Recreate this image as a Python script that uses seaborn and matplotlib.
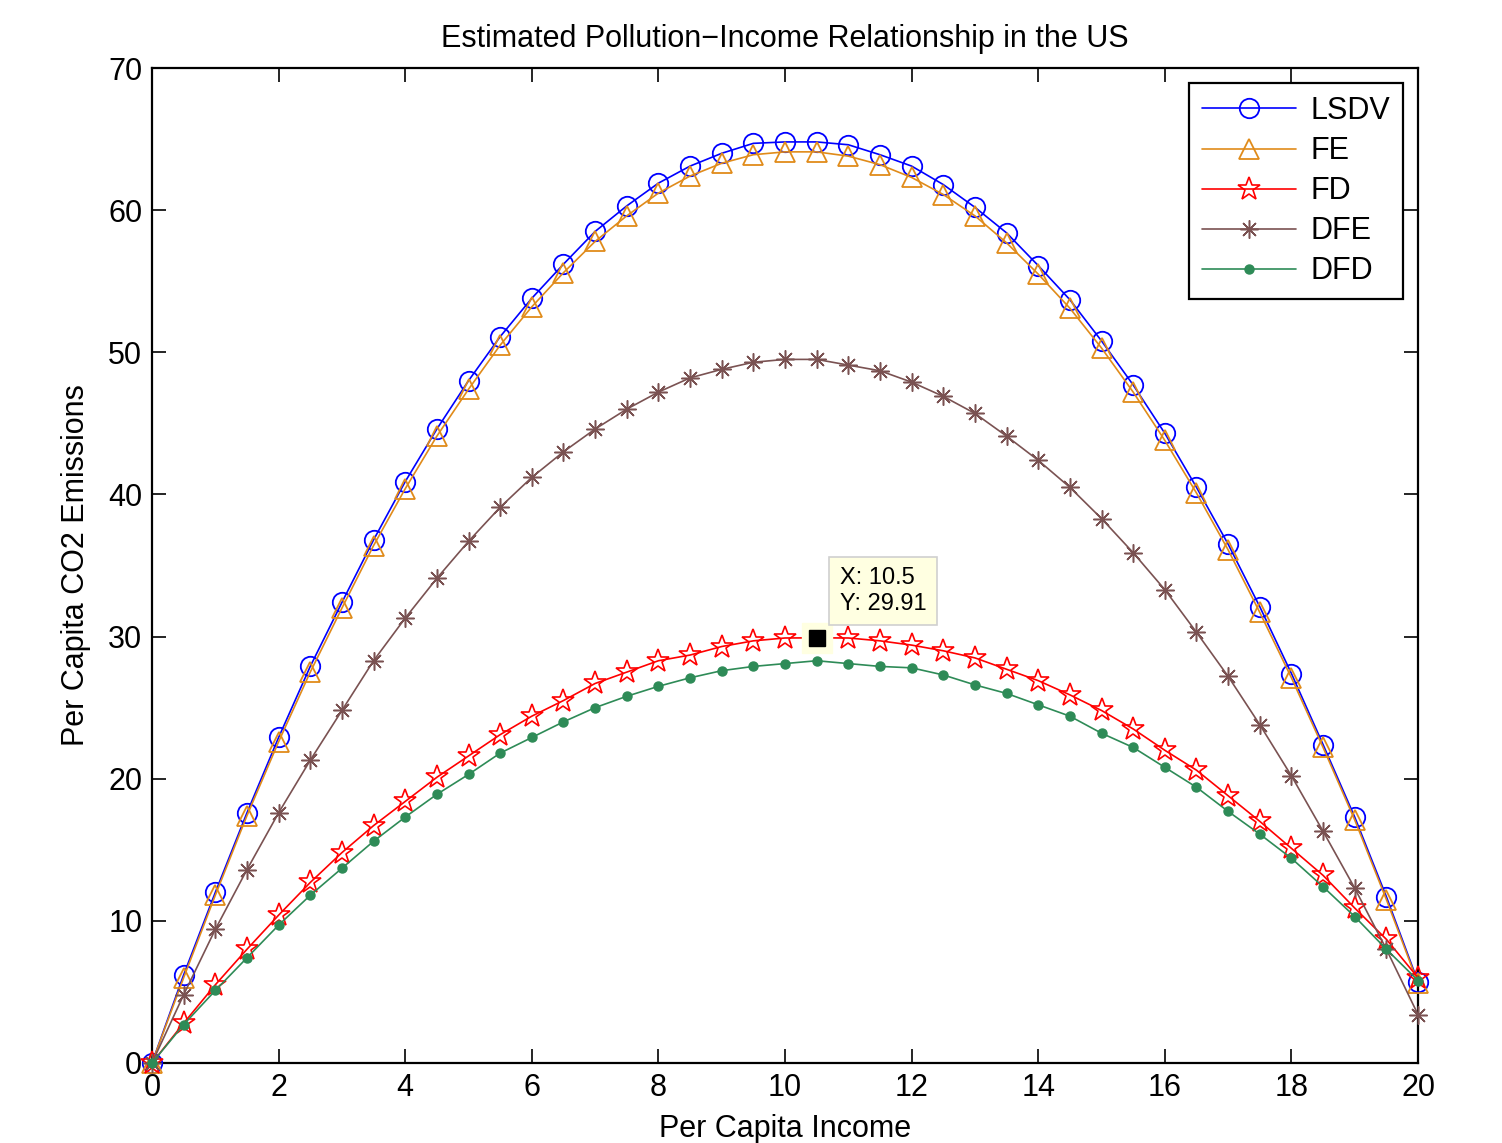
"""
Pollution-income curves (LSDV, FE, FD, DFE, DFD) redrawn with seaborn.
"""
import pandas as pd
import seaborn as sns
import matplotlib.pyplot as plt

# per capita income grid
income = [0, 0.5, 1, 1.5, 2, 2.5, 3, 3.5, 4, 4.5, 5, 5.5, 6, 6.5, 7, 7.5, 8, 8.5, 9, 9.5, 10,
          10.5, 11, 11.5, 12, 12.5, 13, 13.5, 14, 14.5, 15, 15.5, 16, 16.5, 17, 17.5, 18,
          18.5, 19, 19.5, 20]

lsdv = [0, 6.2, 12.0, 17.6, 22.9, 27.9, 32.4, 36.8, 40.9, 44.6, 48.0, 51.1, 53.8, 56.2, 58.5,
        60.3, 61.9, 63.1, 64.0, 64.7, 64.8, 64.8, 64.6, 63.9, 63.1, 61.8, 60.2, 58.4, 56.1,
        53.7, 50.8, 47.7, 44.3, 40.5, 36.5, 32.1, 27.4, 22.4, 17.3, 11.7, 5.7]

fe = [0, 6.0, 11.8, 17.4, 22.6, 27.5, 32.0, 36.4, 40.4, 44.1, 47.4, 50.5, 53.2, 55.6, 57.8,
      59.6, 61.2, 62.4, 63.3, 63.9, 64.1, 64.1, 63.8, 63.2, 62.3, 61.1, 59.6, 57.7, 55.5,
      53.1, 50.3, 47.2, 43.8, 40.1, 36.1, 31.7, 27.1, 22.2, 17.1, 11.5, 5.6]

fd = [0, 2.8, 5.5, 8.0, 10.4, 12.7, 14.8, 16.7, 18.4, 20.1, 21.6, 23.1, 24.4, 25.5, 26.7,
      27.5, 28.3, 28.7, 29.3, 29.7, 29.9, 29.91, 29.9, 29.7, 29.4, 29.0, 28.5, 27.7, 26.9,
      25.9, 24.8, 23.5, 22.0, 20.6, 18.8, 17.0, 15.1, 13.2, 10.9, 8.7, 6.0]

dfe = [0, 4.8, 9.4, 13.6, 17.6, 21.3, 24.8, 28.3, 31.3, 34.1, 36.7, 39.1, 41.2, 43.0, 44.6,
       46.0, 47.2, 48.2, 48.8, 49.3, 49.5, 49.5, 49.1, 48.7, 47.9, 46.9, 45.7, 44.1, 42.4,
       40.5, 38.3, 35.9, 33.3, 30.3, 27.2, 23.8, 20.2, 16.3, 12.3, 8.0, 3.4]

dfd = [0, 2.7, 5.1, 7.4, 9.7, 11.8, 13.7, 15.6, 17.3, 18.9, 20.3, 21.8, 22.9, 24.0, 25.0,
       25.8, 26.5, 27.1, 27.6, 27.9, 28.1, 28.3, 28.1, 27.9, 27.8, 27.3, 26.6, 26.0, 25.2,
       24.4, 23.2, 22.2, 20.8, 19.4, 17.7, 16.1, 14.4, 12.4, 10.3, 8.0, 5.8]

model_names = ["LSDV", "FE", "FD", "DFE", "DFD"]
x_ticks = [0, 2, 4, 6, 8, 10, 12, 14, 16, 18, 20]
y_ticks = [0, 10, 20, 30, 40, 50, 60, 70]
tip_index = 21  # data tip on FD curve

df = pd.DataFrame({"income": income, "LSDV": lsdv, "FE": fe, "FD": fd, "DFE": dfe, "DFD": dfd})
long_df = df.melt(id_vars="income", var_name="model", value_name="co2")

styles = {
    "LSDV": dict(color="#0000ff", marker="o", ms=14, mfc="none", mew=1.3),
    "FE": dict(color="#e08b1a", marker="^", ms=15, mfc="none", mew=1.3),
    "FD": dict(color="#ff0000", marker="*", ms=17, mfc="none", mew=1.2),
    "DFE": dict(color="#7a5252", marker=(8, 2, 0), ms=13, mew=1.1),
    "DFD": dict(color="#2e8b57", marker="o", ms=6.5, mfc="#2e8b57", mec="#2e8b57"),
}

sns.set_style("ticks")
plt.rcParams["font.family"] = ["Liberation Sans", "DejaVu Sans"]
plt.rcParams["text.color"] = "black"
plt.rcParams["axes.labelcolor"] = "black"

fig = plt.figure(figsize=(15.02, 11.43), dpi=100)
ax = fig.add_axes([0.1012, 0.0700, 0.8429, 0.8705])

for name in model_names:
    st = styles[name]
    sub = long_df[long_df["model"] == name]
    sns.lineplot(data=sub, x="income", y="co2", ax=ax, label=name, lw=1.2,
                 color=st["color"], marker=st["marker"], markersize=st["ms"],
                 markerfacecolor=st.get("mfc", st["color"]),
                 markeredgecolor=st.get("mec", st["color"]),
                 markeredgewidth=st.get("mew", 1.0), clip_on=False, zorder=3)

# data tip
tx, ty = income[tip_index], fd[tip_index]
ax.plot(tx, ty, marker="s", ms=21, color="#ffffe1", zorder=4)
ax.plot(tx, ty, marker="s", ms=11, color="black", zorder=5)
ax.text(10.87, 31.55, f"X: {tx}\nY: {ty}", fontsize=17, ha="left", va="bottom",
        linespacing=1.18, zorder=6,
        bbox=dict(boxstyle="square,pad=0.45", fc="#ffffe1", ec="#d0d0d0", lw=1.2))

ax.set_xlim(0, 20)
ax.set_ylim(0, 70)
ax.set_xticks(x_ticks)
ax.set_yticks(y_ticks)
ax.tick_params(direction="in", length=10, width=1.2, top=True, right=True,
               labelsize=22, pad=7, colors="black")
for sp in ax.spines.values():
    sp.set_linewidth(1.6)
    sp.set_color("black")

ax.set_title("Estimated Pollution\u2212Income Relationship in the US", fontsize=22, pad=15)
ax.set_xlabel("Per Capita Income", fontsize=22, labelpad=8)
ax.set_ylabel("Per Capita CO2 Emissions", fontsize=22, labelpad=12)

leg = ax.legend(loc="upper right", fontsize=22, frameon=True, fancybox=False,
                edgecolor="black", framealpha=1, handlelength=3.1, numpoints=1,
                labelspacing=0.33, borderpad=0.42, handletextpad=0.45, borderaxespad=0.5)
leg.get_frame().set_linewidth(1.6)

plt.savefig("out.png", dpi=100)
